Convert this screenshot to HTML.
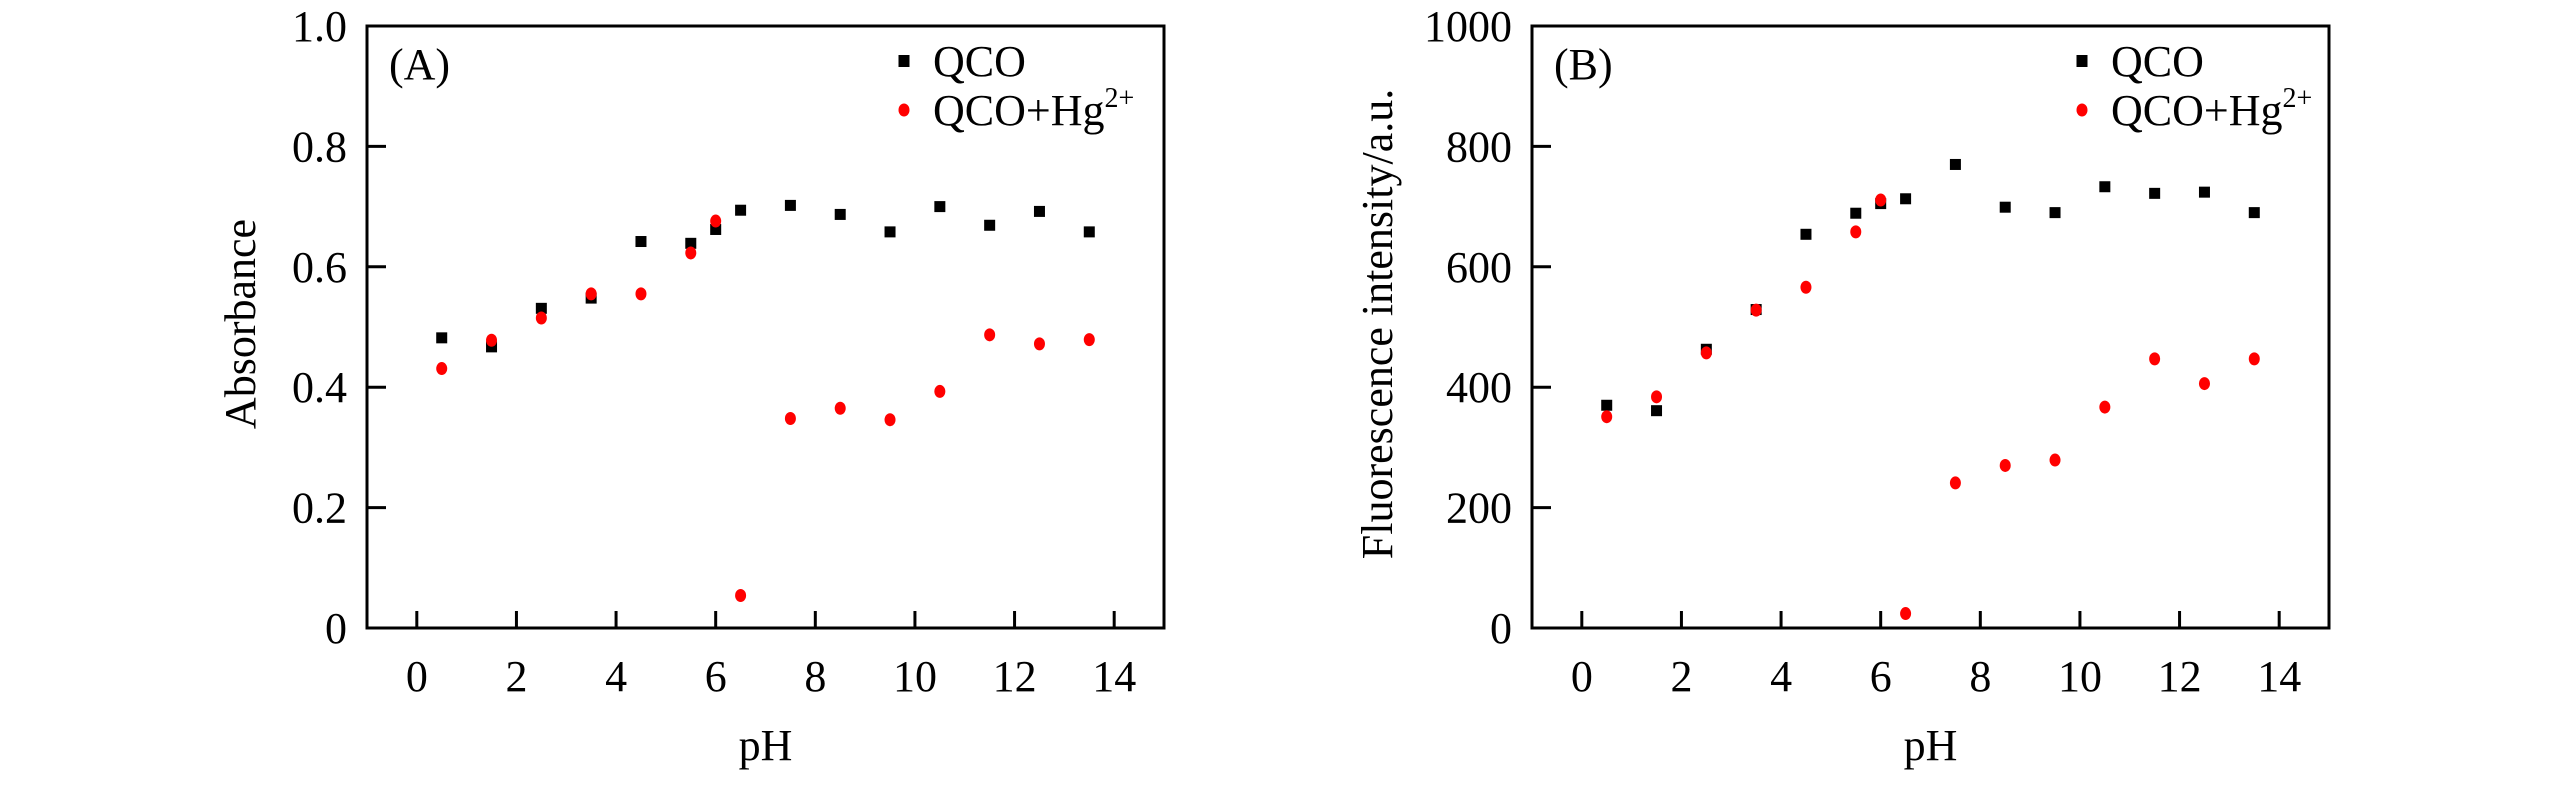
<!DOCTYPE html>
<html><head><meta charset="utf-8">
<style>
html,body{margin:0;padding:0;background:#fff;}
svg{display:block;font-family:"Liberation Serif",serif;}
</style></head>
<body>
<svg id="chart" width="2567" height="787" viewBox="0 0 2567 787"></svg>
<script>
const phValues = [0.5,1.5,2.5,3.5,4.5,5.5,6,6.5,7.5,8.5,9.5,10.5,11.5,12.5,13.5];
const absQCO = [0.482,0.467,0.531,0.548,0.642,0.639,0.662,0.694,0.702,0.687,0.658,0.700,0.669,0.692,0.658];
const absQCOHg = [0.431,0.478,0.515,0.555,0.555,0.623,0.676,0.054,0.348,0.365,0.346,0.393,0.487,0.472,0.479];
const flQCO = [370,361,463,529,654,689,705,713,770,699,690,733,722,724,690];
const flQCOHg = [351,384,457,528,566,658,711,24,241,270,279,367,447,406,447];
const xTicks = [0,2,4,6,8,10,12,14];
const absTicks = [0,0.2,0.4,0.6,0.8,1.0];
const absTickLabels = ["0","0.2","0.4","0.6","0.8","1.0"];
const flTicks = [0,200,400,600,800,1000];
const flTickLabels = ["0","200","400","600","800","1000"];

const NS = "http://www.w3.org/2000/svg";
const svg = document.getElementById('chart');
function mk(tag, attrs, parent){
  const e = document.createElementNS(NS, tag);
  for (const k in attrs) e.setAttribute(k, attrs[k]);
  (parent||svg).appendChild(e);
  return e;
}

function panel(opt){
  const g = mk('g', {});
  
  
  const L=opt.left, R=opt.right, T=26, B=628;
  const xs = v => L + (v + 1) / 16 * (R - L);
  const ys = v => B - (v - opt.ymin) / (opt.ymax - opt.ymin) * (B - T);
  // frame
  const fr = mk('rect', {x:L, y:T, width:R-L, height:B-T, fill:'none', stroke:'#000', 'stroke-width':3}, g);
  
  
  // x ticks
  xTicks.forEach(t => {
    const x = xs(t);
    const tl = mk('line', {x1:x, x2:x, y1:B, y2:B-17, stroke:'#000', 'stroke-width':3}, g);
    
    
    const tx = mk('text', {x:x, y:691, 'font-size':44, 'text-anchor':'middle'}, g);
    tx.textContent = String(t);
    
    
  });
  // y ticks
  opt.ticks.forEach((t, i) => {
    const y = ys(t);
    if (i > 0 && i < opt.ticks.length - 1) {
      const tl = mk('line', {x1:L, x2:L+19, y1:y, y2:y, stroke:'#000', 'stroke-width':3}, g);
      
      
    }
    const tx = mk('text', {x:L-20, y:y+15, 'font-size':44, 'text-anchor':'end'}, g);
    tx.textContent = opt.tickLabels[i];
    
    
  });
  // axis titles
  const xt = mk('text', {x:(L+R)/2, y:760, 'font-size':44, 'text-anchor':'middle'}, g);
  xt.textContent = 'pH';
  
  
  const yt = mk('text', {x:0, y:0, 'font-size':44, 'text-anchor':'middle', transform:`translate(${opt.ytitleX},324) rotate(-90)`}, g);
  yt.textContent = opt.ytitle;
  
  
  // panel label
  const pl = mk('text', {x:L+22, y:79, 'font-size':44}, g);
  pl.textContent = opt.label;
  
  
  // series
  phValues.forEach((p, i) => {
    const sq = mk('rect', {x:xs(p)-5.5, y:ys(opt.s1[i])-5.5, width:11, height:11, fill:'#000'}, g);
    
    
  });
  phValues.forEach((p, i) => {
    const c = mk('ellipse', {cx:xs(p), cy:ys(opt.s2[i]), rx:5.5, ry:6.5, fill:'#f00'}, g);
    
    
  });
  // legend
  const lg = mk('g', {}, g);
  
  
  const lx = opt.legendX;
  const m1 = mk('rect', {x:lx-5.5, y:55, width:11, height:12, fill:'#000'}, lg);
  
  
  const t1 = mk('text', {x:lx+29, y:76, 'font-size':44}, lg);
  t1.textContent = 'QCO';
  
  
  const m2 = mk('ellipse', {cx:lx, cy:110, rx:5.5, ry:6.5, fill:'#f00'}, lg);
  
  
  const t2 = mk('text', {x:lx+29, y:125, 'font-size':44}, lg);
  t2.innerHTML = 'QCO+Hg<tspan font-size="28" dy="-18">2+</tspan>';
  
  
}

panel({name:'panel-a-absorbance', left:367, right:1164, ymin:0, ymax:1, ticks:absTicks, tickLabels:absTickLabels,
  s1:absQCO, s2:absQCOHg, ytitle:'Absorbance', ytitleX:255, label:'(A)', legendX:904});
panel({name:'panel-b-fluorescence', left:1532, right:2329, ymin:0, ymax:1000, ticks:flTicks, tickLabels:flTickLabels,
  s1:flQCO, s2:flQCOHg, ytitle:'Fluorescence intensity/a.u.', ytitleX:1392, label:'(B)', legendX:2082});
</script>
</body></html>
